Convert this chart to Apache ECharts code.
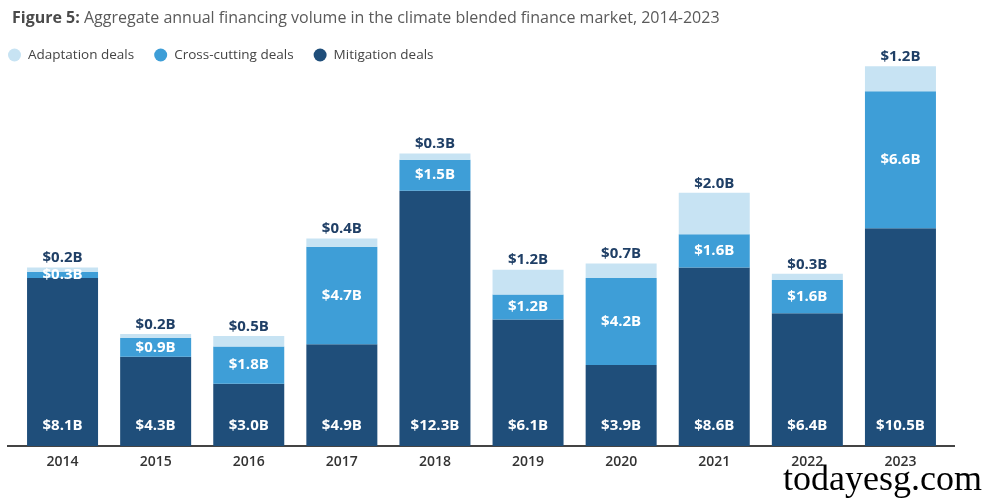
<!DOCTYPE html>
<html>
<head>
<meta charset="utf-8">
<script src="https://cdn.jsdelivr.net/npm/echarts@6/dist/echarts.min.js"></script>
<style>
  html, body { margin: 0; padding: 0; background: #fff; }
  #chart { width: 988px; height: 499px; }
</style>
</head>
<body>
<div id="chart"></div>
<script>
// values in billions USD
const years = ['2014', '2015', '2016', '2017', '2018', '2019', '2020', '2021', '2022', '2023'];
const mitigation = [8.1, 4.3, 3.0, 4.9, 12.3, 6.1, 3.9, 8.6, 6.4, 10.5];
const crossCutting = [0.3, 0.9, 1.8, 4.7, 1.5, 1.2, 4.2, 1.6, 1.6, 6.6];
const adaptation = [0.2, 0.2, 0.5, 0.4, 0.3, 1.2, 0.7, 2.0, 0.3, 1.2];

const chart = echarts.init(document.getElementById('chart'));

const fmt = p => '$' + p.value.toFixed(1) + 'B';
const labelFont = { fontFamily: 'Open Sans', fontSize: 15, fontWeight: 'bold' };

chart.setOption({
  animation: false,
  textStyle: { fontFamily: 'Open Sans' },
  title: {
    text: '{b|Figure 5:} Aggregate annual financing volume in the climate blended finance market, 2014-2023',
    left: 7,
    top: 5,
    textStyle: {
      fontFamily: 'Open Sans',
      fontSize: 16,
      fontWeight: 'normal',
      color: '#5a5a5a',
      rich: {
        b: { fontFamily: 'Open Sans', fontSize: 16, fontWeight: 'bold', color: '#4a4a4a' }
      }
    }
  },
  legend: {
    data: ['Adaptation deals', 'Cross-cutting deals', 'Mitigation deals'],
    left: 3,
    top: 43,
    icon: 'circle',
    itemWidth: 13,
    itemHeight: 13,
    itemGap: 20,
    textStyle: { fontFamily: 'Open Sans', fontSize: 13.5, color: '#444', padding: [0, 0, 0, 2] }
  },
  grid: { left: 16, right: 41, top: 31, bottom: 53 },
  xAxis: {
    type: 'category',
    data: years,
    axisTick: { show: false },
    axisLine: { lineStyle: { color: '#444', width: 2 } },
    axisLabel: { fontFamily: 'Open Sans', fontSize: 14, fontWeight: 600, color: '#333', margin: 9 }
  },
  yAxis: {
    type: 'value',
    min: 0,
    max: 20,
    show: false,
    splitLine: { show: false }
  },
  series: [
    {
      name: 'Mitigation deals',
      type: 'bar',
      stack: 'total',
      barWidth: 71,
      data: mitigation,
      itemStyle: { color: '#1f4e7a' },
      label: { show: true, position: 'insideBottom', distance: 13, color: '#fff', formatter: fmt, ...labelFont }
    },
    {
      name: 'Cross-cutting deals',
      type: 'bar',
      stack: 'total',
      data: crossCutting,
      itemStyle: { color: '#3e9ed7' },
      label: { show: true, position: 'inside', color: '#fff', formatter: fmt, ...labelFont }
    },
    {
      name: 'Adaptation deals',
      type: 'bar',
      stack: 'total',
      data: adaptation,
      itemStyle: { color: '#c7e3f3' },
      label: { show: true, position: 'top', distance: 2, color: '#1f3f66', formatter: fmt, ...labelFont }
    }
  ],
  graphic: [
    {
      type: 'line',
      shape: { x1: 7, y1: 446, x2: 955, y2: 446 },
      style: { stroke: '#444', lineWidth: 2 },
      z: -1
    },
    {
      type: 'text',
      right: 6,
      bottom: 0,
      style: { text: 'todayesg.com', font: '36px "Liberation Serif", serif', fill: '#000' }
    }
  ]
});
</script>
</body>
</html>
